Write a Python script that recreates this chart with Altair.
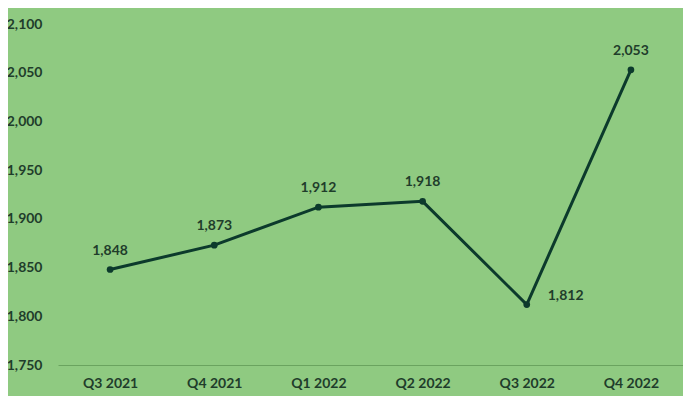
import altair as alt
import pandas as pd

quarters = ["Q3 2021", "Q4 2021", "Q1 2022", "Q2 2022", "Q3 2022", "Q4 2022"]
values = [1848, 1873, 1912, 1918, 1812, 2053]
y_ticks = [1750, 1800, 1850, 1900, 1950, 2000, 2050, 2100]

df = pd.DataFrame({"quarter": quarters, "value": values})

BG = "#8fca81"
TXT = "#1f3d2b"
LINE = "#0c3a2c"
FONT = "Lato"

x = alt.X("quarter:N", sort=quarters, scale=alt.Scale(type="point", padding=0.5),
          axis=alt.Axis(title=None, labelAngle=0, labelFont=FONT, labelFontSize=14,
                        labelFontWeight="bold", labelColor=TXT, ticks=False,
                        domainColor="#6aa35f", domainWidth=1, labelPadding=11))
y = alt.Y("value:Q", scale=alt.Scale(domain=[1750, 2100], nice=False, zero=False),
          axis=alt.Axis(title=None, values=y_ticks, format=",d", labelFont=FONT,
                        labelFontSize=14, labelFontWeight="bold", labelColor=TXT,
                        ticks=False, domain=False, grid=False, labelPadding=16))

base = alt.Chart(df).encode(x=x, y=y)
line = base.mark_line(color=LINE, strokeWidth=3)
pts = base.mark_point(filled=True, color=LINE, size=45, opacity=1)
labels_above = base.transform_filter(alt.datum.quarter != "Q3 2022").mark_text(
    dy=-19, font=FONT, fontSize=14, fontWeight="bold", color=TXT
).encode(text=alt.Text("value:Q", format=",d"))
labels_right = base.transform_filter(alt.datum.quarter == "Q3 2022").mark_text(
    dx=21, dy=-9, align="left", font=FONT, fontSize=14, fontWeight="bold", color=TXT
).encode(text=alt.Text("value:Q", format=",d"))

chart = alt.layer(line, pts, labels_above, labels_right).properties(
    width=625, height=341, background=BG,
    padding={"left": 50, "top": 16, "right": 0, "bottom": 31},
    autosize=alt.AutoSizeParams(type="none"),
).configure_view(stroke=None)

chart.save("out.html", embed_options={"renderer": "svg", "actions": False})
